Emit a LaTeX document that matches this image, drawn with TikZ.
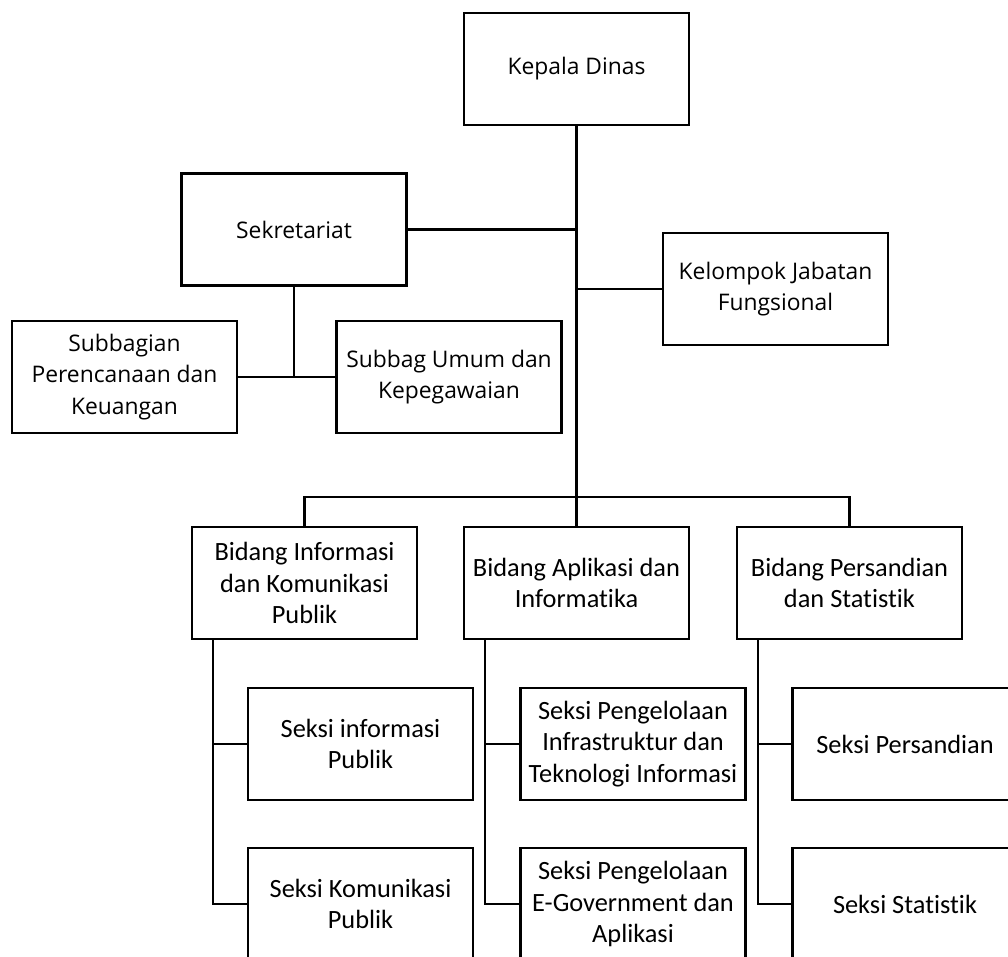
\documentclass[tikz,border=0pt]{standalone}
\usepackage{fontspec}
\setmainfont{Open Sans}
\newfontfamily\calibri[Ligatures=NoCommon]{Carlito}
\usetikzlibrary{positioning, calc}

\begin{document}
\begin{tikzpicture}[x=0.02cm, y=-0.02cm, line width=1.4pt,
    unit/.style={draw, minimum width=4.5cm, minimum height=2.24cm, inner sep=2pt,
      align=center, font=\fontsize{13}{18}\selectfont},
    seksi/.style={unit, font=\calibri\fontsize{15}{18}\selectfont}]
    \useasboundingbox (0,0) rectangle (1008,957);
    \clip (0,0) rectangle (1008,957);

    % top level
    \node[unit] (kd) at (576.5,69) {Kepala Dinas};
    \node[unit] (sek) at (294,229.5) {Sekretariat};
    \node[unit] (kjf) at (775.5,289) {Kelompok Jabatan\\Fungsional};
    \node[unit] (spk) at (124.5,377) {Subbagian\\Perencanaan dan\\Keuangan};
    \node[unit] (sup) at (449,377) {Subbag Umum dan\\Kepegawaian};

    % bidang
    \node[seksi] (bik) at (304.5,583) {Bidang Informasi\\dan Komunikasi\\Publik};
    \node[seksi] (bap) at (576.5,583) {Bidang Aplikasi dan\\Informatika};
    \node[seksi] (bps) at (849.5,583) {Bidang Persandian\\dan Statistik};

    % seksi
    \node[seksi] (si1) at (360.5,744) {Seksi informasi\\Publik};
    \node[seksi] (si2) at (360.5,904) {Seksi Komunikasi\\Publik};
    \node[seksi] (sa1) at (633,744) {Seksi Pengelolaan\\Infrastruktur dan\\Teknologi Informasi};
    \node[seksi] (sa2) at (633,904) {Seksi Pengelolaan\\E-Government dan\\Aplikasi};
    \node[seksi] (sp1) at (905,744) {Seksi Persandian};
    \node[seksi] (sp2) at (905,904) {Seksi Statistik};

    % lines
    \coordinate (bar) at (576.5,497);
    \draw (kd.south) -- (bar);
    \draw (sek.east) -- (sek.east -| kd.south);
    \draw (kjf.west) -- (kjf.west -| kd.south);
    \draw (sek.south) -- (sek.south |- spk.east);
    \draw (spk.east) -- (sup.west);
    \draw (bik.north) -- (bik.north |- bar) -- (bps.north |- bar) -- (bps.north);
    \draw (bap.north) -- (bar);
    \foreach \b/\s/\t in {bik/si1/si2, bap/sa1/sa2, bps/sp1/sp2} {
        \coordinate (\b-l) at ($(\b.south west)+(22,0)$);
        \draw (\b-l) |- (\t.west);
        \draw (\s.west) -- (\s.west -| \b-l);
    }
\end{tikzpicture}
\end{document}
